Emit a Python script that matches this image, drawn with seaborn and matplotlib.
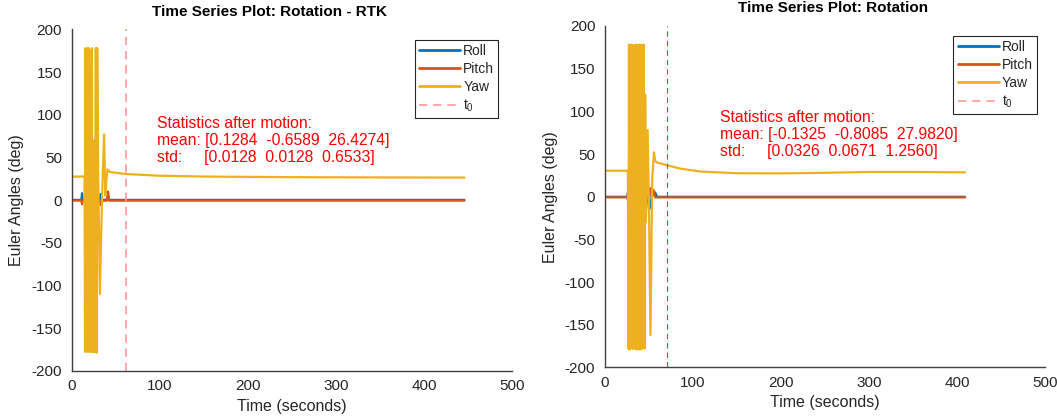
import numpy as np
import seaborn as sns
import matplotlib.pyplot as plt
from matplotlib.lines import Line2D

# ---- data ----
# left panel (RTK)
t_yaw_rtk = [0, 12.6, 14.6, 15.2, 15.8, 16.4, 17.0, 17.6, 18.2, 18.8,
             19.4, 20.0, 20.6, 21.2, 21.8, 22.4, 23.0, 23.6, 24.2, 24.8,
             25.6, 26.4, 27.4, 28.2, 29.0, 30.0, 32.0, 34.4, 36.8, 38.2,
             39.6, 40.6, 43.0, 50.0, 62.0, 100.0, 150.0, 250.0, 350.0, 446.0]
yaw_rtk = [27.5, 27.5, 28.0, -178, 178, -176, 177, -178, 178, -120,
           178, -178, 176, -178, 70, -175, 178, -178, 60, -178,
           70, -178, 178, -179, 178, 40, -110, 0, 77, 5,
           25, 36, 33, 32, 30.5, 28.5, 27.5, 26.8, 26.5, 26.3]
t_rp_rtk = [0, 11.0, 11.8, 12.6, 20.0, 32.0, 33.0, 34.0, 40.0, 41.3, 42.6, 50.0, 446.0]
roll_rtk = [0.13, 0.13, 8.0, 0.1, -3.0, 0.5, 7.0, 0.1, 0.5, 4.0, 0.1, 0.13, 0.13]
pitch_rtk = [-0.66, -0.66, -5.0, -0.7, 3.0, -0.7, -6.0, -0.7, -0.7, 10.0, -0.7, -0.66, -0.66]
t0_rtk = 62.0
stats_rtk = ["[0.1284  -0.6589  26.4274]", "[0.0128  0.0128  0.6533]"]

# right panel
t_yaw = [0, 26.0, 26.6, 27.2, 27.8, 28.4, 29.0, 29.6, 30.2, 30.8,
         31.4, 32.0, 32.6, 33.2, 33.8, 34.4, 35.0, 35.6, 36.2, 36.8,
         37.4, 38.0, 38.6, 39.2, 39.8, 40.4, 41.0, 41.6, 42.2, 42.8,
         43.4, 44.0, 44.8, 45.6, 46.4, 48.4, 50.0, 51.6, 53.6, 55.6,
         57.0, 59.0, 70.0, 85.0, 108.0, 150.0, 200.0, 250.0, 300.0, 350.0,
         409.0]
yaw = [30.4, 30.4, -178, 178, -179, 177, -178, 178, -40, 178,
       -178, 176, -178, 177, -80, 178, -178, 177, -179, 178,
       -178, 60, -178, 178, -179, 177, -178, 178, -178, 150,
       -120, 178, -178, 120, -30, 78, -20, -162, 20, 52,
       42, 40, 37, 33, 29.5, 27.5, 27.3, 28, 29, 29,
       28.5]
t_rp = [0, 25.0, 26.0, 27.0, 40.0, 48.5, 50.0, 51.5, 53.0, 55.0, 57.0, 59.0, 62.0, 409.0]
roll = [-0.13, -0.13, 5.0, -0.1, 2.0, -0.1, -15.0, -12.0, -0.1, 3.0, 5.0, -0.1, -0.13, -0.13]
pitch = [-0.8, -0.8, -4.0, -0.8, 3.0, -0.8, 2.0, 10.0, -0.8, 8.0, -0.8, -0.8, -0.8, -0.8]
t0 = 70.5
stats = ["[-0.1325  -0.8085  27.9820]", "[0.0326  0.0671  1.2560]"]

C_ROLL, C_PITCH, C_YAW = '#0072BD', '#D95319', '#EDB120'

sns.set_style("white")
plt.rcParams['font.family'] = ['Liberation Sans', 'DejaVu Sans']
plt.rcParams['mathtext.fontset'] = 'custom'
plt.rcParams['mathtext.rm'] = 'Liberation Sans'
plt.rcParams['axes.unicode_minus'] = False

fig = plt.figure(figsize=(10.57, 4.16), dpi=100)
ax1 = fig.add_axes([0.0678, 0.109, 0.4166, 0.8203])
ax2 = fig.add_axes([0.5724, 0.1166, 0.4163, 0.8211])


def panel(ax, t_rp, roll, pitch, t_yaw, yaw, t0, t0_color, t0_lw, stats,
          title, title_x, tx, ty, leg_xy):
    sns.lineplot(x=t_rp, y=roll, ax=ax, color=C_ROLL, linewidth=1.6, legend=False)
    sns.lineplot(x=t_rp, y=pitch, ax=ax, color=C_PITCH, linewidth=1.6, legend=False)
    sns.lineplot(x=t_yaw, y=yaw, ax=ax, color=C_YAW, linewidth=1.6, legend=False)
    ax.axvline(t0, color=t0_color, lw=t0_lw, ls=(0, (5, 3.5)))

    ax.set_xlim(0, 500)
    ax.set_ylim(-200, 200)
    ax.set_xticks(range(0, 501, 100))
    ax.set_yticks(range(-200, 201, 50))
    ax.tick_params(direction='in', length=4, width=0.8, labelsize=11,
                   colors='#262626')
    ax.tick_params(axis='y', pad=7)
    ax.tick_params(axis='x', pad=6)
    for s in ['top', 'right']:
        ax.spines[s].set_visible(False)
    for s in ['left', 'bottom']:
        ax.spines[s].set_color('#404040')
        ax.spines[s].set_linewidth(1.0)
    ax.set_xlabel('Time (seconds)', fontsize=11.5, color='#262626', labelpad=4)
    ax.set_ylabel('Euler Angles (deg)', fontsize=11.5, color='#262626', labelpad=5)
    ax.set_title(title, fontsize=11, fontweight='bold', color='black', pad=10,
                 x=title_x)

    ax.text(tx, ty, 'Statistics after motion:\nmean: ' + stats[0] + '\nstd:     ' + stats[1],
            color='#FF0000', fontsize=11.3, va='top', ha='left', linespacing=1.2)

    handles = [Line2D([], [], color=C_ROLL, lw=2),
               Line2D([], [], color=C_PITCH, lw=2),
               Line2D([], [], color=C_YAW, lw=2),
               Line2D([], [], color='#FF9A9A', lw=1.2, ls=(0, (5, 3.5)))]
    leg = ax.legend(handles, ['Roll', 'Pitch', 'Yaw', r'$\mathregular{t_0}$'],
                    loc='upper right', bbox_to_anchor=leg_xy, borderaxespad=0,
                    fontsize=10, handlelength=3.0, handletextpad=0.2,
                    labelspacing=0.28, borderpad=0.3, fancybox=False,
                    framealpha=1, edgecolor='#262626')
    leg.get_frame().set_linewidth(0.8)


panel(ax1, t_rp_rtk, roll_rtk, pitch_rtk, t_yaw_rtk, yaw_rtk, t0_rtk, '#FF9A9A', 1.2,
      stats_rtk, 'Time Series Plot: Rotation - RTK', 0.45, 97, 99, (0.969, 0.969))
panel(ax2, t_rp, roll, pitch, t_yaw, yaw, t0, '#E0383E', 0.8,
      stats, 'Time Series Plot: Rotation', 0.518, 131, 102, (0.982, 0.971))

fig.savefig('out.png', dpi=100)
